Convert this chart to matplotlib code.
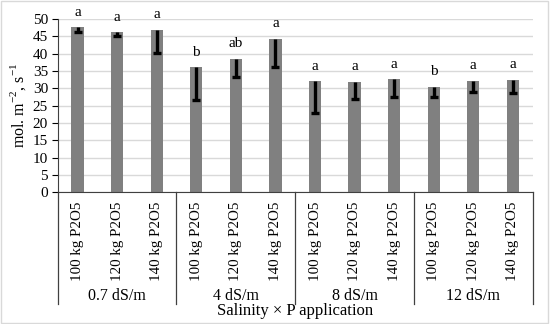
import matplotlib
matplotlib.use('Agg')
import matplotlib.pyplot as plt
from matplotlib.patches import Rectangle

plt.rcParams['font.family'] = ['Liberation Serif', 'DejaVu Serif']
plt.rcParams['mathtext.fontset'] = 'custom'
plt.rcParams['mathtext.rm'] = 'Liberation Serif'

# 数据
salinity = ['0.7 dS/m', '4 dS/m', '8 dS/m', '12 dS/m']
doses = ['100 kg P2O5', '120 kg P2O5', '140 kg P2O5']
values = [47.6, 46.1, 46.9, 36.1, 38.5, 44.3, 32.0, 31.9, 32.7, 30.5, 32.2, 32.5]
err_low = [1.3, 1.0, 6.8, 9.5, 5.3, 8.1, 9.0, 5.0, 5.1, 3.1, 3.4, 3.8]
letters = ['a', 'a', 'a', 'b', 'ab', 'a', 'a', 'a', 'a', 'b', 'a', 'a']
tick_labels = doses * len(salinity)

fig = plt.figure(figsize=(5.5, 3.24), dpi=100)
ax = fig.add_axes([0.105, 0.4065, 0.8635, 0.535])

x = list(range(len(values)))
lows = [v - e for v, e in zip(values, err_low)]
ax.bar(x, values, width=0.31, color='#808080', zorder=2)
# 只画向下的误差线
ax.vlines(x, lows, values, color='black', linewidth=2.4, zorder=3)
ax.plot(x, lows, linestyle='none', marker='_', markersize=6, markeredgewidth=2.4,
        color='black', zorder=3)

for xi, v, lab in zip(x, values, letters):
    ax.annotate(lab, (xi, v), xytext=(0, 6), textcoords='offset points',
                ha='center', va='bottom', fontsize=11)

ax.set_xlim(-0.5, len(values) - 0.5)
ax.set_ylim(0, 50)
ax.set_yticks(range(0, 51, 5))
ax.tick_params(axis='y', labelsize=11, length=4, width=0.8, pad=3)
ax.yaxis.grid(True, color='#d9d9d9', linewidth=1, zorder=0)
ax.set_axisbelow(True)

ax.set_xticks(x)
ax.set_xticklabels(tick_labels, rotation=90, fontsize=10.8, va='top')
ax.tick_params(axis='x', length=0, pad=7)

for s in ['top', 'right']:
    ax.spines[s].set_visible(False)
ax.spines['left'].set_color('#404040')
ax.spines['bottom'].set_color('#404040')

# 分组线和分组标签
for b in [-0.5, 2.5, 5.5, 8.5, 11.5]:
    ax.plot([b, b], [0, -0.645], transform=ax.get_xaxis_transform(),
            color='#404040', linewidth=0.9, clip_on=False)
for i, s in enumerate(salinity):
    ax.text(3 * i + 1, -0.6, s, transform=ax.get_xaxis_transform(),
            ha='center', va='center', fontsize=11.5)

fig.text(0.536, 0.041, 'Salinity \u00d7 P application', ha='center', va='center',
         fontsize=12)
fig.text(0.033, 0.675, 'mol. m$^{\\mathrm{-2}}$, s$^{\\mathrm{-1}}$', rotation=90,
         ha='center', va='center', fontsize=11.5)

fig.patches.append(Rectangle((0.002, 0.003), 0.995, 0.993, transform=fig.transFigure,
                             fill=False, edgecolor='#d9d9d9', linewidth=1))

fig.savefig('out.png', dpi=100)
